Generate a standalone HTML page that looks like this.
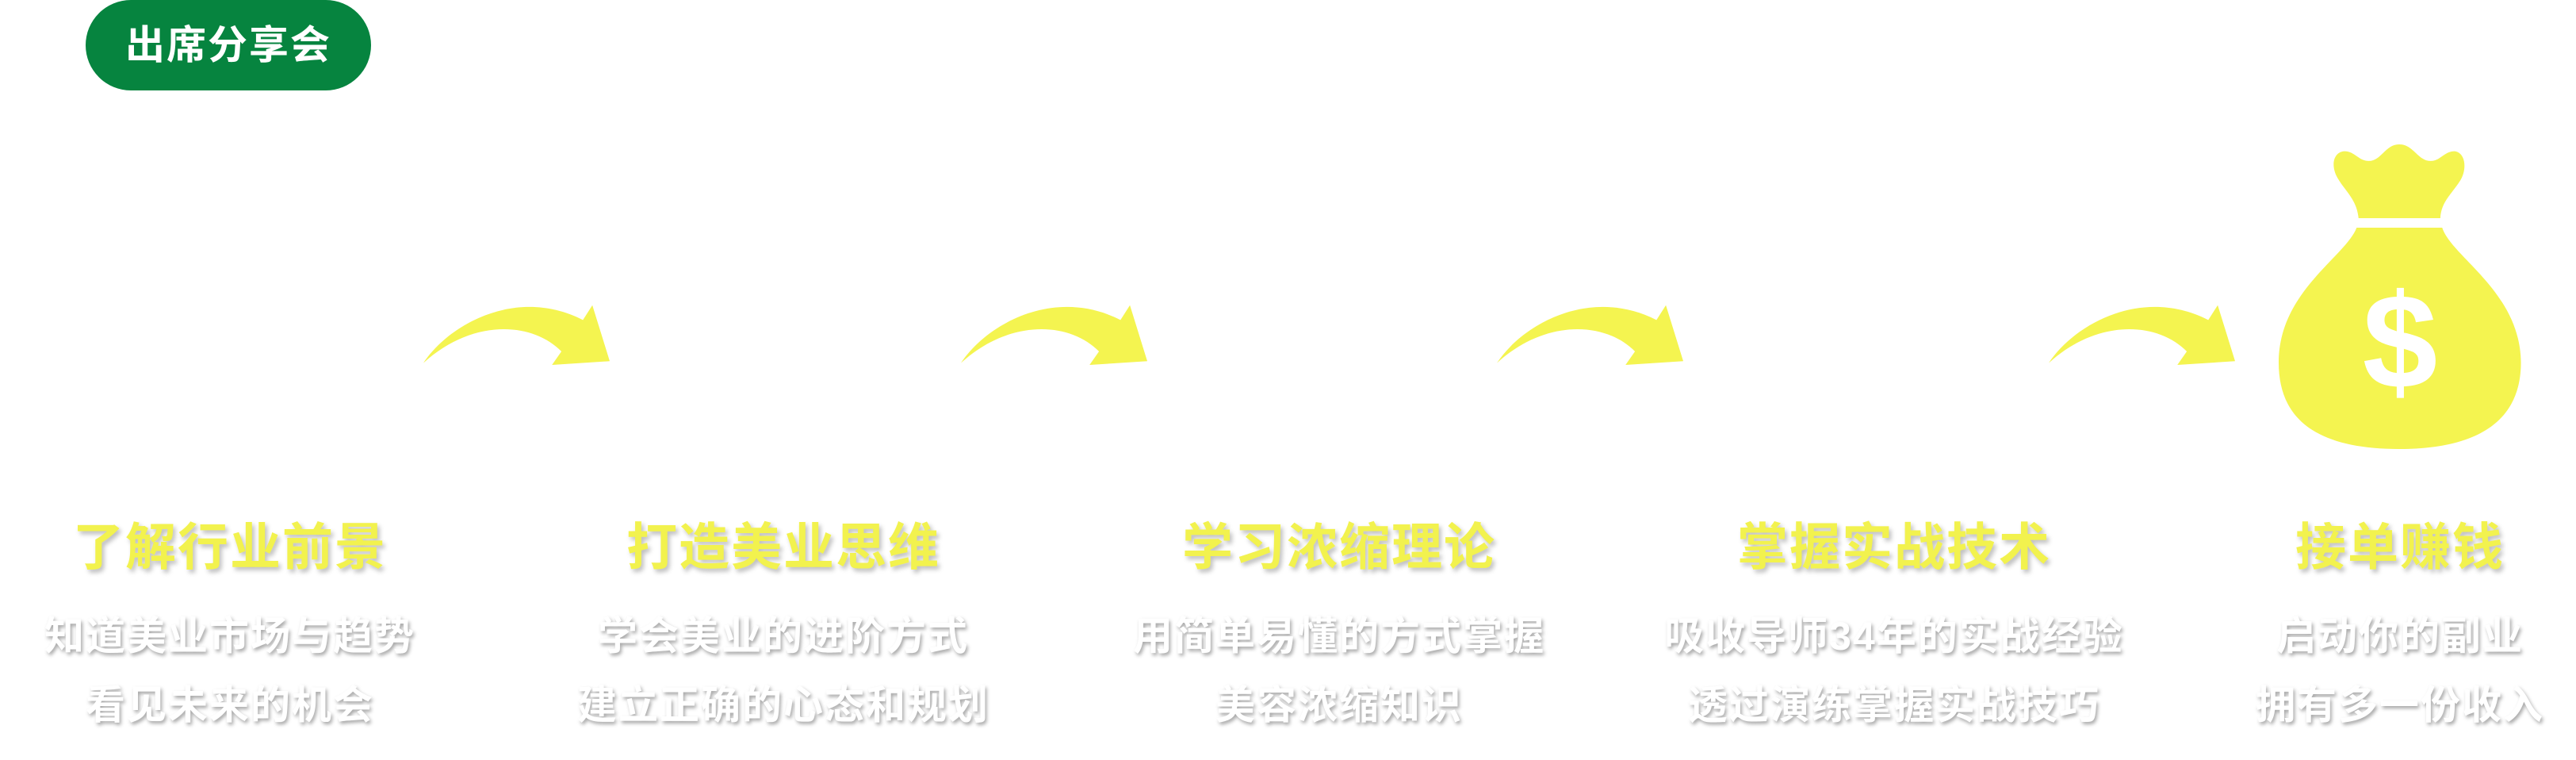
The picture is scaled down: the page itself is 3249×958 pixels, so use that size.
<!DOCTYPE html>
<html><head><meta charset="utf-8"><style>
html,body{margin:0;padding:0;background:#fff;}
#c{position:relative;width:3249px;height:958px;overflow:hidden;background:#fff;font-family:"Liberation Sans","Noto Sans CJK SC",sans-serif;}
.pill{position:absolute;left:108px;top:0;width:360px;height:114px;background:#06843f;border-radius:57px;color:#fff;font-weight:bold;font-size:50px;line-height:114px;text-align:center;letter-spacing:2px;}
.col{position:absolute;width:800px;text-align:center;}
.t{position:absolute;left:0;width:800px;top:655px;font-size:64px;font-weight:bold;color:#f2f24e;line-height:70px;letter-spacing:2px;text-shadow:3px 4px 6px rgba(0,0,0,0.25);}
.s{position:absolute;left:0;width:800px;font-size:50px;font-weight:bold;color:#fff;line-height:56px;letter-spacing:2px;text-shadow:2px 3px 5px rgba(0,0,0,0.35);}
.s1{top:774px}.s2{top:861px}
svg{position:absolute;}
</style></head><body><div id="c">
<div class="pill">出席分享会</div>

<svg style="left:534px;top:383px" width="235" height="77" viewBox="172 705 494 227" preserveAspectRatio="none"><path d="M172,925 C240,780 420,640 595,765 L620,710 L666,918 L513,932 L538,882 C460,770 300,760 172,925 Z" fill="#f4f450"/></svg>
<svg style="left:1212px;top:383px" width="235" height="77" viewBox="172 705 494 227" preserveAspectRatio="none"><path d="M172,925 C240,780 420,640 595,765 L620,710 L666,918 L513,932 L538,882 C460,770 300,760 172,925 Z" fill="#f4f450"/></svg>
<svg style="left:1888px;top:383px" width="235" height="77" viewBox="172 705 494 227" preserveAspectRatio="none"><path d="M172,925 C240,780 420,640 595,765 L620,710 L666,918 L513,932 L538,882 C460,770 300,760 172,925 Z" fill="#f4f450"/></svg>
<svg style="left:2584px;top:383px" width="235" height="77" viewBox="172 705 494 227" preserveAspectRatio="none"><path d="M172,925 C240,780 420,640 595,765 L620,710 L666,918 L513,932 L538,882 C460,770 300,760 172,925 Z" fill="#f4f450"/></svg>

<svg style="left:2874px;top:182px" width="307" height="384" viewBox="785 92 640 1156" preserveAspectRatio="none">
<path fill="#f4f450" d="M995,372 C990,300 960,270 940,220 C920,170 930,120 958,118 C985,118 995,155 1022,155 C1055,155 1065,92 1102,92 C1140,92 1150,155 1185,155 C1210,155 1220,118 1248,118 C1278,125 1280,190 1262,230 C1240,280 1212,310 1210,372 Z"/>
<path fill="#f4f450" d="M990,408 L1215,408 C1240,520 1420,650 1422,920 C1422,1130 1320,1248 1102,1248 C880,1248 785,1130 785,920 C785,650 960,520 990,408 Z"/>
</svg>
<div style="position:absolute;left:2927px;top:336px;width:200px;text-align:center;font-family:'Liberation Sans',sans-serif;font-weight:bold;font-size:170px;line-height:190px;color:#fff;">$</div>

<div class="col" style="left:-110px"><div class="t">了解行业前景</div><div class="s s1">知道美业市场与趋势</div><div class="s s2">看见未来的机会</div></div>
<div class="col" style="left:588px"><div class="t">打造美业思维</div><div class="s s1">学会美业的进阶方式</div><div class="s s2">建立正确的心态和规划</div></div>
<div class="col" style="left:1289px"><div class="t">学习浓缩理论</div><div class="s s1">用简单易懂的方式掌握</div><div class="s s2">美容浓缩知识</div></div>
<div class="col" style="left:1989px"><div class="t">掌握实战技术</div><div class="s s1">吸收导师34年的实战经验</div><div class="s s2">透过演练掌握实战技巧</div></div>
<div class="col" style="left:2627px"><div class="t">接单赚钱</div><div class="s s1">启动你的副业</div><div class="s s2">拥有多一份收入</div></div>
</div></body></html>
